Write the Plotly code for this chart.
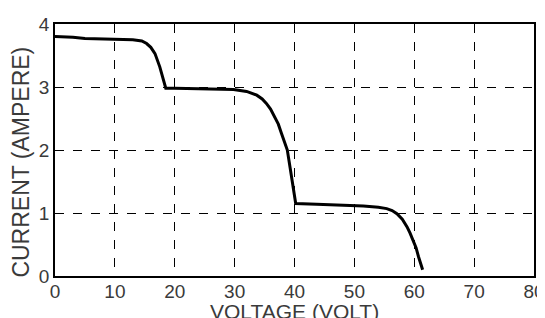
import plotly.graph_objects as go

voltage = [0, 3, 5, 10, 13, 14.5, 15.3, 16.0, 16.7, 17.5, 18.1, 18.5, 20, 25, 29.8, 32, 33.7, 34.6, 35.3, 36.0, 36.7, 37.3, 37.8, 38.3, 38.8, 39.3, 40.2,
           43.7, 47, 51.5, 54, 55.4, 56.3, 57.1, 58.0, 58.8, 59.3, 59.8, 60.3, 60.7, 61.4]
current = [3.80, 3.79, 3.77, 3.76, 3.75, 3.73, 3.69, 3.63, 3.53, 3.32, 3.11, 2.98, 2.98, 2.97, 2.96, 2.93, 2.87, 2.81, 2.74, 2.65, 2.53, 2.41, 2.27, 2.14, 2.00, 1.70, 1.15,
           1.14, 1.13, 1.11, 1.09, 1.07, 1.04, 0.99, 0.90, 0.78, 0.68, 0.57, 0.45, 0.31, 0.10]

x_ticks = [0, 10, 20, 30, 40, 50, 60, 70, 80]
y_ticks = [0, 1, 2, 3, 4]
x_title = "VOLTAGE (VOLT)"
y_title = "CURRENT (AMPERE)"

txt = "#3a3a3a"
fig = go.Figure()
fig.add_trace(go.Scatter(x=voltage, y=current, mode="lines",
                         line=dict(color="black", width=3),
                         showlegend=False, hoverinfo="skip"))

fig.update_layout(
    width=537, height=310,
    margin=dict(l=47, r=11, t=16, b=42, autoexpand=False),
    paper_bgcolor="white", plot_bgcolor="white",
    font=dict(family="Arial, Liberation Sans, sans-serif", color=txt, size=19),
    xaxis=dict(range=[0, 80], tickvals=x_ticks, ticktext=[str(v) for v in x_ticks],
               showgrid=True, gridcolor="black", griddash="dash", gridwidth=1,
               showline=True, linecolor="black", linewidth=1.5, mirror=True,
               zeroline=False, ticks="", ticklabelstandoff=-3, automargin=False,
               tickfont=dict(size=19, color=txt)),
    yaxis=dict(range=[0, 4], tickvals=y_ticks, ticktext=[str(v) for v in y_ticks],
               showgrid=True, gridcolor="black", griddash="dash", gridwidth=1,
               showline=True, linecolor="black", linewidth=1.5, mirror=True,
               zeroline=False, ticks="", ticklabelstandoff=0, automargin=False,
               tickfont=dict(size=19, color=txt)),
    annotations=[
        dict(text=x_title, xref="paper", yref="paper", x=0.5, y=0, yanchor="top",
             xanchor="center", yshift=-22, showarrow=False, font=dict(size=21, color=txt)),
        dict(text=y_title, xref="paper", yref="paper", x=0, y=0.45, xanchor="right",
             yanchor="middle", xshift=-19, textangle=-90, showarrow=False,
             font=dict(size=23, color=txt)),
    ],
)
fig.write_html("out.html")
